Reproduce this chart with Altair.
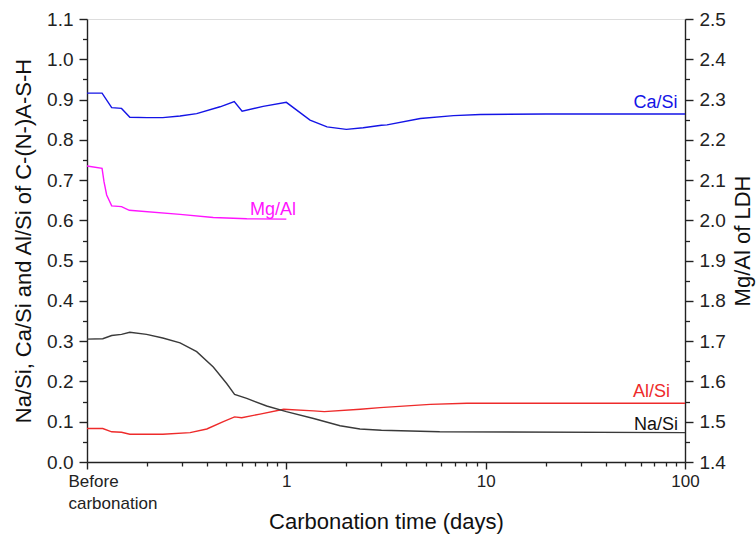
import altair as alt
import pandas as pd

# ---- data ----
ca_t = [0.1, 0.119, 0.133, 0.149, 0.164, 0.20, 0.24, 0.293, 0.355, 0.465, 0.548, 0.60, 0.765, 1.0,
        1.315, 1.6, 2.0, 2.43, 3.0, 3.2, 4.7, 6.9, 9.4, 20, 100]
ca_v = [0.916, 0.916, 0.880, 0.878, 0.856, 0.855, 0.855, 0.859, 0.865, 0.882, 0.895, 0.871, 0.883, 0.893,
        0.849, 0.832, 0.826, 0.830, 0.836, 0.837, 0.853, 0.860, 0.863, 0.864, 0.864]

mg_t = [0.1, 0.119, 0.1217, 0.1255, 0.133, 0.149, 0.163, 0.293, 0.43, 0.633, 1.0]
mg_v = [2.135, 2.129, 2.096, 2.063, 2.036, 2.034, 2.025, 2.015, 2.007, 2.004, 2.003]

na_t = [0.1, 0.12, 0.133, 0.149, 0.164, 0.199, 0.24, 0.293, 0.355, 0.43, 0.502, 0.55, 0.633, 0.797,
        1.0, 1.37, 1.86, 2.34, 3.0, 5.88, 100]
na_v = [0.305, 0.306, 0.314, 0.317, 0.322, 0.317, 0.308, 0.296, 0.274, 0.236, 0.195, 0.168, 0.158, 0.139,
        0.125, 0.108, 0.090, 0.082, 0.079, 0.075, 0.073]

al_t = [0.1, 0.12, 0.133, 0.149, 0.164, 0.24, 0.329, 0.399, 0.483, 0.55, 0.597, 0.738, 0.97,
        1.37, 1.55, 2.35, 2.95, 5.27, 8.05, 100]
al_v = [0.083, 0.083, 0.075, 0.074, 0.069, 0.069, 0.073, 0.082, 0.100, 0.112, 0.110, 0.119, 0.131,
        0.127, 0.125, 0.131, 0.135, 0.143, 0.146, 0.146]

left_series = ["Ca/Si", "Al/Si", "Na/Si"]
left_colors = ["#1414E6", "#EE2B2B", "#3A3A3A"]

label_text = ["Ca/Si", "Al/Si", "Na/Si"]
label_t = [91.6, 84.2, 92.3]
label_v = [0.878, 0.162, 0.079]
label_color = ["#1414E6", "#EE2B2B", "#111111"]

mg_label_t = [0.858]
mg_label_v = [2.013]

x_major = [0.1, 1, 10, 100]
x_minor = [0.2, 0.3, 0.4, 0.5, 0.6, 0.7, 0.8, 0.9, 2, 3, 4, 5, 6, 7, 8, 9,
           20, 30, 40, 50, 60, 70, 80, 90]
yl_major = [round(i * 0.1, 2) for i in range(12)]
yl_minor = [round(0.05 + i * 0.1, 2) for i in range(11)]
yr_major = [round(1.4 + i * 0.1, 2) for i in range(12)]
yr_minor = [round(1.45 + i * 0.1, 2) for i in range(11)]

FONT = "Liberation Sans"
AX = "#222222"
W, H = 598, 443

left_df = pd.concat([
    pd.DataFrame({"t": ca_t, "v": ca_v, "s": "Ca/Si", "o": range(len(ca_t))}),
    pd.DataFrame({"t": al_t, "v": al_v, "s": "Al/Si", "o": range(len(al_t))}),
    pd.DataFrame({"t": na_t, "v": na_v, "s": "Na/Si", "o": range(len(na_t))}),
])
mg_df = pd.DataFrame({"t": mg_t, "v": mg_v, "o": range(len(mg_t))})
lab_df = pd.DataFrame({"t": label_t, "v": label_v, "txt": label_text, "c": label_color})
mglab_df = pd.DataFrame({"t": mg_label_t, "v": mg_label_v, "txt": ["Mg/Al"]})

xscale = alt.Scale(type="log", domain=[0.1, 100], nice=False)
ylscale = alt.Scale(domain=[0, 1.1], nice=False, zero=False)
yrscale = alt.Scale(domain=[1.4, 2.5], nice=False, zero=False)

common_axis = dict(domainColor=AX, tickColor=AX, labelColor=AX, titleColor="#111111",
                   labelFont=FONT, titleFont=FONT, titleFontSize=22,
                   titleFontWeight="normal", grid=False, domainWidth=1.4, tickWidth=1.4)

x_major_axis = alt.Axis(values=x_major, orient="bottom", title="Carbonation time (days)",
                        labelExpr="datum.value < 0.5 ? ['Before', 'carbonation'] : format(datum.value, 'd')",
                        labelAlign={"condition": {"test": "datum.value < 0.5", "value": "left"}, "value": "center"},
                        labelOffset={"condition": {"test": "datum.value < 0.5", "value": -19}, "value": 0},
                        labelFontSize=17, labelLineHeight=22, labelFlush=False, labelOverlap=False,
                        labelPadding=4, tickSize=7,
                        titleX=W / 2, titleY=66, titleBaseline="alphabetic", titleAlign="center",
                        **common_axis)
x_minor_axis = alt.Axis(values=x_minor, orient="bottom", labels=False, domain=False, title=None,
                        tickSize=4, tickColor=AX, tickWidth=1.3, grid=False)

yl_major_axis = alt.Axis(values=yl_major, orient="left", format=".1f", tickSize=8, labelPadding=6,
                         labelFontSize=19,
                         title="Na/Si, Ca/Si and Al/Si of C-(N-)A-S-H",
                         titleX=-64, titleY=H / 2, titleBaseline="middle", titleAlign="center",
                         labelFlush=False, **common_axis)
yl_minor_axis = alt.Axis(values=yl_minor, orient="left", labels=False, domain=False, title=None,
                         tickSize=4.5, tickColor=AX, tickWidth=1.3, grid=False)

yr_major_axis = alt.Axis(values=yr_major, orient="right", format=".1f", tickSize=8, labelPadding=6,
                         labelFontSize=19,
                         title="Mg/Al of LDH", titleAngle=270,
                         titleX=57, titleY=H / 2, titleBaseline="middle", titleAlign="center",
                         labelFlush=False, **common_axis)
yr_minor_axis = alt.Axis(values=yr_minor, orient="right", labels=False, domain=False, title=None,
                         tickSize=4.5, tickColor=AX, tickWidth=1.3, grid=False)

left_lines = alt.Chart(left_df).mark_line(strokeWidth=1.4).encode(
    x=alt.X("t:Q", scale=xscale, axis=x_major_axis),
    y=alt.Y("v:Q", scale=ylscale, axis=yl_major_axis),
    color=alt.Color("s:N", scale=alt.Scale(domain=left_series, range=left_colors), legend=None),
    order="o:Q",
)
left_minor = alt.Chart(left_df).mark_line(opacity=0).encode(
    x=alt.X("t:Q", scale=xscale, axis=x_minor_axis),
    y=alt.Y("v:Q", scale=ylscale, axis=yl_minor_axis),
    detail="s:N",
    order="o:Q",
)
left_labels = alt.Chart(lab_df).mark_text(align="right", baseline="alphabetic", font=FONT, fontSize=18).encode(
    x=alt.X("t:Q", scale=xscale, axis=None),
    y=alt.Y("v:Q", scale=ylscale, axis=None),
    text="txt:N",
    color=alt.Color("c:N", scale=None),
)
left = alt.layer(left_lines, left_minor, left_labels).resolve_axis(x="independent", y="independent")

mg_line = alt.Chart(mg_df).mark_line(strokeWidth=1.4, color="#FF14FF").encode(
    x=alt.X("t:Q", scale=xscale, axis=None),
    y=alt.Y("v:Q", scale=yrscale, axis=yr_major_axis),
    order="o:Q",
)
mg_minor = alt.Chart(mg_df).mark_line(opacity=0).encode(
    x=alt.X("t:Q", scale=xscale, axis=None),
    y=alt.Y("v:Q", scale=yrscale, axis=yr_minor_axis),
    order="o:Q",
)
mg_label = alt.Chart(mglab_df).mark_text(align="center", baseline="alphabetic", font=FONT, fontSize=18,
                                         color="#FF14FF").encode(
    x=alt.X("t:Q", scale=xscale, axis=None),
    y=alt.Y("v:Q", scale=yrscale, axis=None),
    text="txt:N",
)
right = alt.layer(mg_line, mg_minor, mg_label).resolve_axis(y="independent")

chart = alt.layer(left, right).resolve_scale(y="independent").resolve_axis(x="independent", y="independent").properties(
    width=W, height=H,
    autosize="none",
    padding={"left": 87, "top": 19, "right": 71, "bottom": 78},
).configure_view(stroke=None).configure(background="white")

chart.save("out.html", embed_options={"renderer": "svg", "actions": False})
